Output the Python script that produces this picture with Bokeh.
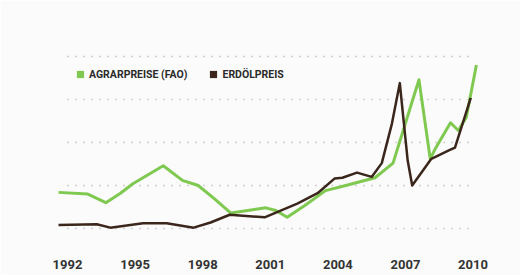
from bokeh.plotting import figure
from bokeh.models import FixedTicker, Range1d, Legend, LegendItem
from bokeh.embed import file_html
from bokeh.resources import INLINE

# Agrarpreise (FAO) - index
agrar_years = [1991.6, 1992.9, 1993.7, 1994.35, 1994.9, 1996.25, 1997.1, 1997.8, 1998.5,
               1999.25, 2000.8, 2001.25, 2001.75, 2002.55, 2003.45, 2004.35, 2005.65,
               2006.45, 2007.6, 2008.1, 2008.35, 2009.0, 2009.35, 2009.7, 2010.15]
agrar_values = [92, 90, 80, 91, 102, 123, 106, 100, 85, 68, 74, 71, 63, 77, 94, 100,
                109, 126, 223, 131, 144, 173, 164, 179, 240]

# Erdölpreis - index
oil_years = [1991.6, 1993.3, 1993.9, 1995.35, 1996.4, 1997.6, 1998.35, 1999.2, 2000.75,
             2002.2, 2003.1, 2003.85, 2004.2, 2004.85, 2005.5, 2005.95, 2006.4, 2006.75,
             2007.1, 2007.3, 2008.15, 2008.95, 2009.2, 2009.9]
oil_values = [54, 55, 51, 56, 56, 51, 57, 66, 63, 79, 91, 108, 109, 115, 110, 126, 172,
              219, 129, 100, 131, 141, 144, 202]

tick_years = [1992, 1995, 1998, 2001, 2004, 2007, 2010]
grid_values = [50, 100, 150, 200, 250]

GREEN = "#7fc950"
BROWN = "#3b261c"
BG = "#fbfbfb"

p = figure(width=520, height=275, output_backend="svg", toolbar_location=None,
           x_range=Range1d(1990.8, 2011.22), y_range=Range1d(36.05, 280.2),
           min_border_left=40, min_border_right=20, min_border_top=30, min_border_bottom=35,
           background_fill_color=BG, border_fill_color=BG, outline_line_color=None)

p.yaxis.visible = False
p.xgrid.visible = False
p.ygrid.visible = False

# dotted horizontal guide lines spanning the labelled years
p.segment(x0=[tick_years[0]] * len(grid_values), x1=[tick_years[-1]] * len(grid_values),
          y0=grid_values, y1=grid_values,
          line_color="#a8a8a8", line_dash="1 7", line_width=1.5)

ax = p.xaxis[0]
ax.ticker = FixedTicker(ticks=tick_years)
ax.axis_line_color = None
ax.major_tick_line_color = None
ax.minor_tick_line_color = None
ax.major_tick_out = 0
ax.major_tick_in = 0
ax.major_label_standoff = 19
ax.major_label_text_font = "Roboto"
ax.major_label_text_font_style = "bold"
ax.major_label_text_font_size = "13px"
ax.major_label_text_color = "#333333"

p.line(agrar_years, agrar_values, line_color=GREEN, line_width=3, line_join="round")
p.line(oil_years, oil_values, line_color=BROWN, line_width=2.5, line_join="round")

# legend markers (points placed outside the visible range, only their legend glyph shows)
g1 = p.scatter([1900], [0], marker="square", size=8, fill_color=GREEN, line_color=None)
g2 = p.scatter([1900], [0], marker="square", size=8, fill_color=BROWN, line_color=None)

legend = Legend(items=[LegendItem(label="AGRARPREISE (FAO)", renderers=[g1]),
                       LegendItem(label="ERDÖLPREIS", renderers=[g2])],
                orientation="horizontal", location=(31, 157),
                padding=0, margin=0, spacing=17, label_standoff=0,
                glyph_width=18, glyph_height=18,
                label_text_font="Roboto", label_text_font_style="bold",
                label_text_font_size="10.5px", label_text_color="#2a2a2a",
                border_line_color=None, background_fill_alpha=0)
p.add_layout(legend)

open("out.html", "w").write(file_html(p, INLINE))
